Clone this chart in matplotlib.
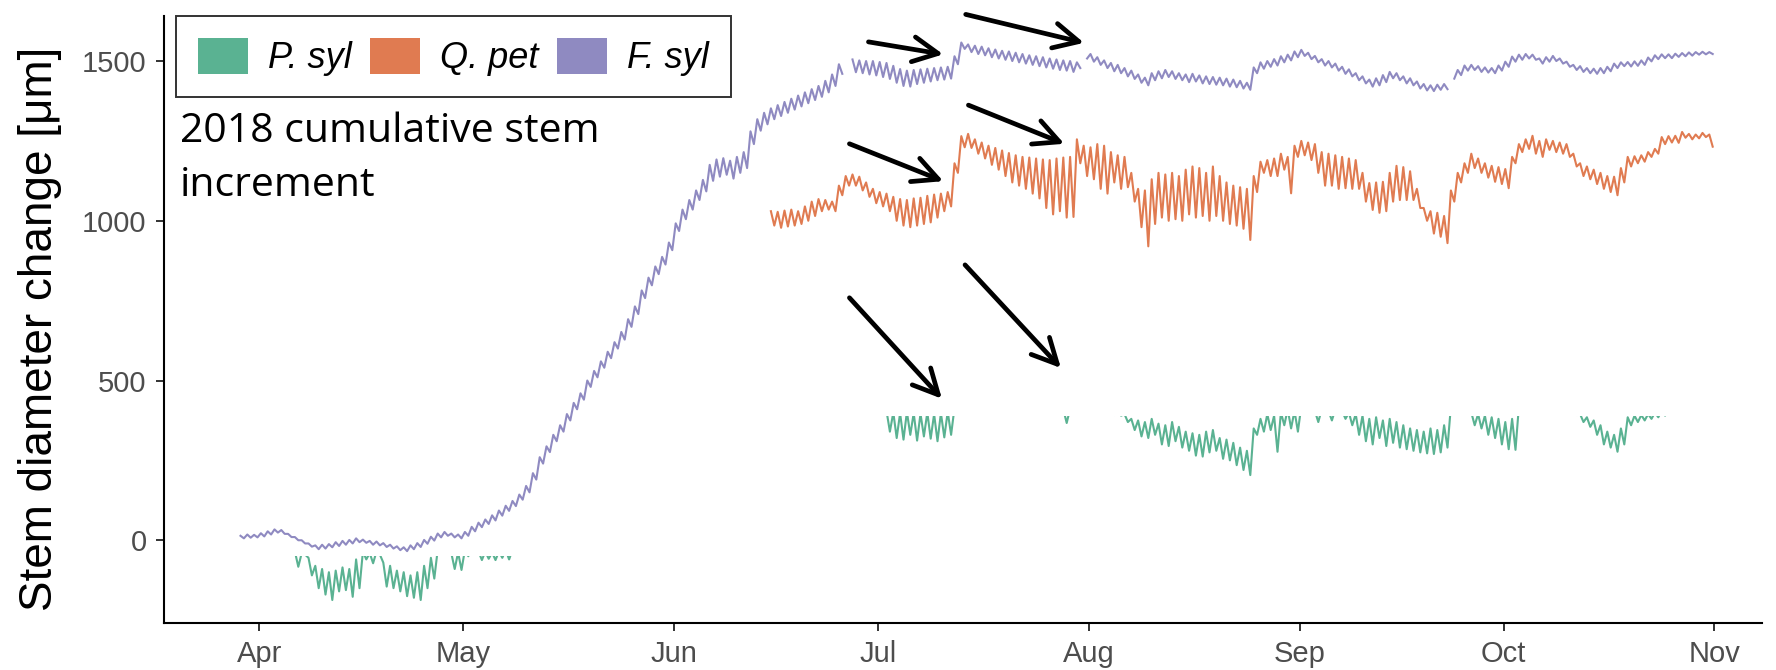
import numpy as np
import matplotlib
matplotlib.use("Agg")
import matplotlib.pyplot as plt
import matplotlib.dates as mdates
from matplotlib.patches import Rectangle, Patch

nan = np.nan

# ---------------- data: 12-hourly stem diameter change (µm), alternating morning max / afternoon min
series_names = ["P. syl", "Q. pet", "F. syl"]

fsyl_start = "2018-03-29"
fsyl = [
    14, 6, 18, 8, 17, 9, 22, 12, 28, 18, 34, 24, 32, 20,
    20, 10, 10, 0, 0, -10, -10, -20, -16, -28, -14, -26, -12, -22,
    -6, -18, -2, -14, 1, -10, 6, -6, 2, -8, -2, -14, -4, -16,
    -9, -21, -14, -26, -19, -31, -22, -34, -16, -28, -9, -21, 1, -11,
    11, -1, 21, 9, 26, 14, 21, 9, 18, 6, 26, 14, 42, 28,
    55, 41, 65, 51, 78, 62, 93, 77, 108, 92, 123, 107, 143, 127,
    170, 150, 210, 190, 260, 240, 294, 276, 330, 310, 360, 340, 395, 375,
    430, 410, 460, 440, 500, 480, 530, 510, 560, 540, 590, 570, 620, 600,
    652, 628, 692, 668, 732, 708, 782, 758, 822, 798, 857, 833, 887, 863,
    932, 908, 992, 968, 1035, 1005, 1065, 1035, 1095, 1065, 1128, 1092, 1175, 1125,
    1192, 1138, 1196, 1144, 1188, 1132, 1200, 1150, 1215, 1165, 1280, 1240, 1318, 1282,
    1338, 1302, 1352, 1318, 1362, 1328, 1372, 1338, 1382, 1348, 1392, 1358, 1402, 1368,
    1412, 1378, 1422, 1388, 1438, 1402, 1458, 1422, 1490, 1460, nan, nan, 1505, 1465,
    1502, 1462, 1500, 1458, 1500, 1455, 1497, 1450, 1494, 1444, 1485, 1432, 1475, 1422,
    1470, 1420, 1472, 1428, 1474, 1432, 1476, 1436, 1478, 1440, 1480, 1442, 1482, 1445,
    1515, 1490, 1558, 1538, 1552, 1528, 1548, 1522, 1545, 1518, 1540, 1512, 1536, 1508,
    1532, 1504, 1530, 1500, 1526, 1496, 1522, 1492, 1518, 1488, 1515, 1484, 1512, 1480,
    1508, 1476, 1505, 1472, 1502, 1470, 1500, 1466, 1496, 1478, nan, 1508, 1522, 1498,
    1512, 1488, 1502, 1478, 1494, 1468, 1488, 1462, 1478, 1452, 1470, 1444, 1458, 1432,
    1448, 1424, 1462, 1440, 1468, 1446, 1472, 1450, 1468, 1444, 1462, 1440, 1458, 1434,
    1460, 1436, 1455, 1430, 1452, 1428, 1450, 1426, 1448, 1424, 1445, 1420, 1442, 1418,
    1438, 1414, 1432, 1410, 1480, 1462, 1496, 1476, 1500, 1482, 1506, 1486, 1515, 1496,
    1520, 1502, 1530, 1512, 1535, 1516, 1526, 1506, 1516, 1496, 1506, 1486, 1500, 1480,
    1492, 1470, 1482, 1460, 1474, 1452, 1462, 1440, 1452, 1430, 1442, 1420, 1446, 1424,
    1456, 1434, 1466, 1446, 1462, 1440, 1452, 1430, 1446, 1424, 1436, 1414, 1428, 1408,
    1424, 1406, 1426, 1410, 1428, 1412, nan, 1445, 1472, 1456, 1486, 1470, 1488, 1472,
    1484, 1466, 1480, 1464, 1478, 1462, 1486, 1470, 1498, 1482, 1514, 1498, 1520, 1504,
    1522, 1508, 1520, 1504, 1508, 1492, 1512, 1498, 1516, 1500, 1508, 1492, 1498, 1482,
    1488, 1472, 1484, 1466, 1478, 1462, 1476, 1460, 1478, 1462, 1482, 1468, 1492, 1478,
    1496, 1484, 1497, 1483, 1499, 1485, 1502, 1488, 1511, 1499, 1518, 1506, 1521, 1509,
    1521, 1509, 1523, 1513, 1525, 1515, 1527, 1517, 1528, 1520, 1529, 1521, 1528, 1522,
]

qpet_start = "2018-06-15"
qpet = [
    1030, 985, 1028, 978, 1032, 982, 1035, 985, 1030, 990, 1045, 1000, 1060, 1015,
    1068, 1030, 1065, 1035, 1060, 1030, 1110, 1080, 1140, 1110, 1145, 1110, 1138, 1095,
    1120, 1075, 1100, 1055, 1090, 1045, 1085, 1030, 1075, 1000, 1068, 985, 1065, 980,
    1070, 985, 1072, 990, 1078, 995, 1082, 1010, 1085, 1030, 1090, 1045, 1180, 1150,
    1265, 1230, 1272, 1228, 1255, 1210, 1245, 1195, 1235, 1175, 1228, 1160, 1220, 1140,
    1212, 1120, 1205, 1110, 1200, 1100, 1198, 1085, 1195, 1070, 1192, 1040, 1190, 1020,
    1195, 1030, 1198, 1010, 1200, 1012, 1255, 1180, 1235, 1140, 1230, 1130, 1240, 1100,
    1235, 1085, 1215, 1120, 1205, 1100, 1200, 1105, 1150, 1060, 1100, 980, 1095, 920,
    1130, 990, 1150, 1010, 1145, 1000, 1150, 1005, 1140, 1000, 1160, 1020, 1170, 1010,
    1165, 1015, 1150, 1000, 1170, 1015, 1140, 1000, 1120, 990, 1110, 985, 1105, 975,
    1100, 940, 1140, 1090, 1185, 1150, 1190, 1140, 1195, 1140, 1210, 1160, 1200, 1086,
    1235, 1200, 1250, 1205, 1245, 1190, 1240, 1150, 1215, 1110, 1210, 1110, 1205, 1100,
    1200, 1102, 1195, 1100, 1190, 1100, 1150, 1060, 1118, 1034, 1120, 1025, 1122, 1030,
    1150, 1060, 1172, 1065, 1168, 1065, 1155, 1065, 1100, 1040, 1040, 1000, 1030, 960,
    1025, 950, 1015, 930, 1095, 1060, 1150, 1120, 1180, 1150, 1210, 1165, 1195, 1150,
    1180, 1135, 1172, 1122, 1168, 1115, 1162, 1102, 1200, 1180, 1240, 1215, 1255, 1225,
    1266, 1210, 1250, 1200, 1255, 1222, 1250, 1215, 1245, 1210, 1240, 1200, 1210, 1170,
    1180, 1140, 1170, 1130, 1160, 1115, 1150, 1100, 1140, 1090, 1138, 1080, 1165, 1120,
    1200, 1170, 1202, 1180, 1205, 1185, 1215, 1200, 1225, 1210, 1262, 1240, 1265, 1245,
    1266, 1244, 1278, 1260, 1272, 1255, 1270, 1258, 1275, 1262, 1270, 1232,
]

psyl_spring_start = "2018-04-01"
psyl_spring = [
    -30, -40, -32, -42, -28, -38, -30, -42, -34, -44, -35, -83, -40, -45,
    -55, -110, -80, -150, -90, -170, -100, -187, -95, -160, -85, -156, -90, -177,
    -60, -150, -35, -60, -40, -72, -35, -45, -70, -145, -80, -150, -95, -160,
    -100, -175, -110, -180, -100, -187, -80, -150, -55, -120, -30, -45, -30, -40,
    -40, -90, -38, -93, -30, -50, -30, -40, -35, -62, -35, -58, -38, -62,
    -35, -55, -30, -60, -30, -45, -30, -40, -32, -42, -30, -40, -28, -38, -30, -40,
]

psyl_summer_start = "2018-06-15"
psyl_summer = [
    430, 400, 425, 402, 428, 398, 430, 405, 425, 400, 420, 398, 425, 402,
    428, 400, 430, 405, 425, 400, 422, 398, 426, 402, 428, 400, 425, 398,
    420, 396, 415, 395, 412, 392, 405, 340, 400, 320, 398, 315, 402, 330,
    398, 312, 396, 325, 400, 318, 395, 310, 398, 322, 402, 330, 415, 395,
    425, 400, 428, 402, 430, 405, 426, 400, 424, 398, 428, 402, 425, 400,
    422, 398, 426, 400, 428, 402, 425, 400, 422, 396, 420, 398, 418, 395,
    415, 394, 410, 367, 412, 395, 415, 398, 418, 400, 420, 400, 416, 396,
    414, 394, 412, 392, 405, 390, 395, 370, 380, 345, 375, 325, 370, 320,
    380, 330, 365, 300, 360, 295, 370, 310, 355, 290, 340, 280, 335, 265,
    330, 262, 340, 275, 345, 280, 320, 255, 315, 250, 305, 235, 290, 220,
    280, 204, 350, 330, 380, 340, 395, 345, 390, 277, 400, 360, 410, 350,
    405, 340, 420, 400, 410, 395, 405, 370, 410, 392, 405, 375, 410, 395,
    405, 380, 400, 360, 395, 330, 390, 310, 380, 300, 385, 320, 375, 295,
    380, 305, 370, 290, 360, 285, 350, 280, 345, 275, 340, 272, 350, 270,
    345, 275, 360, 290, 420, 400, 420, 395, 410, 395, 400, 360, 395, 350,
    390, 330, 385, 320, 380, 300, 370, 285, 380, 283, 420, 400, 422, 402,
    425, 400, 420, 398, 424, 402, 426, 400, 422, 398, 420, 396, 410, 392,
    395, 370, 385, 355, 375, 330, 360, 300, 340, 290, 330, 277, 350, 300,
    385, 360, 390, 370, 392, 375, 395, 380, 400, 385, 405, 390, 420, 400,
    422, 402, 425, 400, 424, 402, 426, 404, 425, 400, 422, 398,
]

# visible ceiling of the P. syl trace in the reference (values above are blanked out)
psyl_spring_ceiling = -49
psyl_summer_ceiling = 389

y_ticks = [0, 500, 1000, 1500]
y_label = "Stem diameter change [μm]"
note_text = "2018 cumulative stem\nincrement"

arrow_tails = [("2018-06-29T14:24", 1560), ("2018-07-13T21:36", 1646),
               ("2018-06-26T19:12", 1241), ("2018-07-14T07:12", 1362),
               ("2018-06-26T19:12", 759), ("2018-07-13T19:12", 862)]
arrow_heads = [("2018-07-10T14:24", 1521), ("2018-07-31T07:12", 1557),
               ("2018-07-10T14:24", 1124), ("2018-07-28T09:36", 1241),
               ("2018-07-10T09:36", 443), ("2018-07-27T21:36", 539)]

colors = {"P. syl": "#5AB292", "Q. pet": "#E07B51", "F. syl": "#8F8AC1"}


def times(start, vals):
    return (np.datetime64(start + "T06:00") +
            np.arange(len(vals)) * np.timedelta64(12, "h"))


# ---------------- figure
fig = plt.figure(figsize=(17.76, 6.70), dpi=100)
W, H = 1776, 670
ax = fig.add_axes([164 / W, (H - 623) / H, (1762 - 164) / W, (623 - 16) / H])

lw = 1.5
l1, = ax.plot(times(psyl_spring_start, psyl_spring), psyl_spring, color=colors["P. syl"], lw=lw)
l2, = ax.plot(times(psyl_summer_start, psyl_summer), psyl_summer, color=colors["P. syl"], lw=lw)
ax.plot(times(qpet_start, qpet), qpet, color=colors["Q. pet"], lw=lw)
ax.plot(times(fsyl_start, fsyl), fsyl, color=colors["F. syl"], lw=lw)

x0 = mdates.date2num(np.datetime64("2018-01-01"))
for line, ceil in ((l1, psyl_spring_ceiling), (l2, psyl_summer_ceiling)):
    r = Rectangle((x0, -5000), 400, ceil + 5000, transform=ax.transData)
    line.set_clip_path(r)

ax.set_xlim(np.datetime64("2018-03-18"), np.datetime64("2018-11-08"))
ax.set_ylim(-259, 1641)

ax.xaxis.set_major_locator(mdates.MonthLocator())
ax.xaxis.set_major_formatter(mdates.DateFormatter("%b"))
ax.set_yticks(y_ticks)

for s in ("top", "right"):
    ax.spines[s].set_visible(False)
for s in ("left", "bottom"):
    ax.spines[s].set_linewidth(1.5)
    ax.spines[s].set_color("black")

ax.tick_params(axis="both", length=5.5, width=1.4, color="#333333", labelcolor="#4D4D4D",
               labelsize=21)
ax.tick_params(axis="x", pad=6.5)
ax.tick_params(axis="y", pad=7)
for lab in ax.get_xticklabels() + ax.get_yticklabels():
    lab.set_fontfamily("Liberation Sans")

ax.set_ylabel(y_label, fontsize=33, family="Liberation Sans", color="black")
ax.yaxis.set_label_coords(-0.064, 0.485)

# legend
handles = [Patch(facecolor=colors[n], edgecolor="none") for n in series_names]
leg = fig.legend(handles, series_names, loc="upper left",
                 bbox_to_anchor=(176 / W, 1 - 16 / H), ncol=3, frameon=True,
                 prop={"family": "Liberation Sans", "style": "italic", "size": 26},
                 handlelength=1.4, handleheight=1.15, handletextpad=0.55,
                 columnspacing=0.5, borderpad=0.6, borderaxespad=0, fancybox=False)
leg.get_frame().set_edgecolor("black")
leg.get_frame().set_linewidth(1.4)

fig.text(180 / W, 1 - 111 / H, note_text, fontsize=29.5, family="Open Sans",
         va="top", ha="left", linespacing=1.45)

# arrows
for tail, head in zip(arrow_tails, arrow_heads):
    ax.annotate("", xy=(np.datetime64(head[0]), head[1]),
                xytext=(np.datetime64(tail[0]), tail[1]),
                arrowprops=dict(arrowstyle="->,head_length=0.9,head_width=0.45",
                                lw=3.4, color="black", shrinkA=0, shrinkB=0,
                                mutation_scale=20),
                annotation_clip=False)

fig.savefig("out.png", dpi=100)
